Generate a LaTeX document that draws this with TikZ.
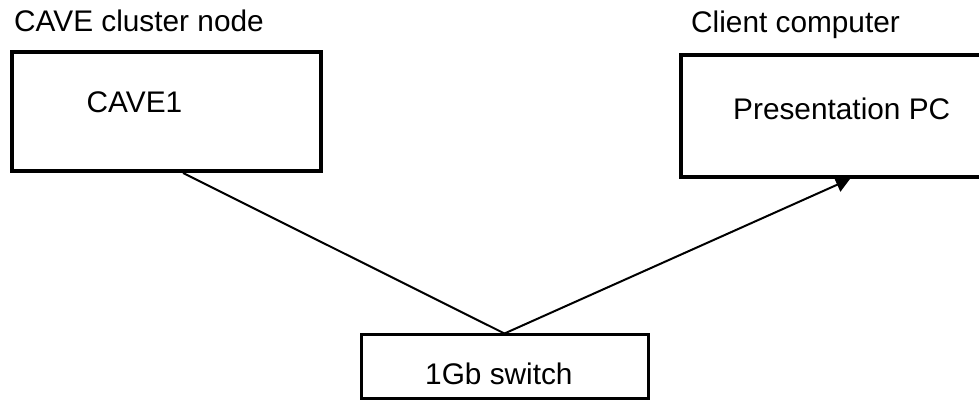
\documentclass[tikz,border=0pt]{standalone}
\usepackage{fontspec}
\setmainfont{Liberation Sans}
\usetikzlibrary{arrows.meta,calc}
\begin{document}
\begin{tikzpicture}[x=1pt,y=1pt,
  lbl/.style={inner sep=0pt,anchor=base west,font=\fontsize{29.8}{35}\selectfont},
  heavybox/.style={draw=black,line width=4pt,rectangle,inner sep=0pt},
  lightbox/.style={draw=black,line width=3pt,rectangle,inner sep=0pt},
  link/.style={draw=black,line width=2pt}]
  \useasboundingbox (0,0) rectangle (979,401);
  % boxes
  \node[heavybox,minimum width=309pt,minimum height=119pt] (cave) at (166.5,289.5) {};
  \node[heavybox,minimum width=326pt,minimum height=122pt] (pres) at (844,285) {};
  \node[lightbox,minimum width=287pt,minimum height=64pt] (switch) at (505,34) {};
  % texts
  \node[lbl] (cavehead) at (14,369) {CAVE cluster node};
  \node[lbl] (clienthead) at (691,368) {Client computer};
  \node[lbl] (cavename) at (86.5,288) {CAVE1};
  \node[lbl] (presname) at (733,281) {Presentation PC};
  \node[lbl] (switchname) at (425,16) {1Gb switch};
  % connections
  \coordinate (caveout) at ($(cave.south west)+(173,0)$);
  \coordinate (hub) at ($(switch.north west)+(144.5,0)$);
  \coordinate (presin) at ($(pres.south west)+(171,0)$);
  \draw[link] (caveout) -- (hub);
  \draw[link,-{Triangle[length=14pt,width=15pt]}] (hub) -- (presin);
\end{tikzpicture}
\end{document}
